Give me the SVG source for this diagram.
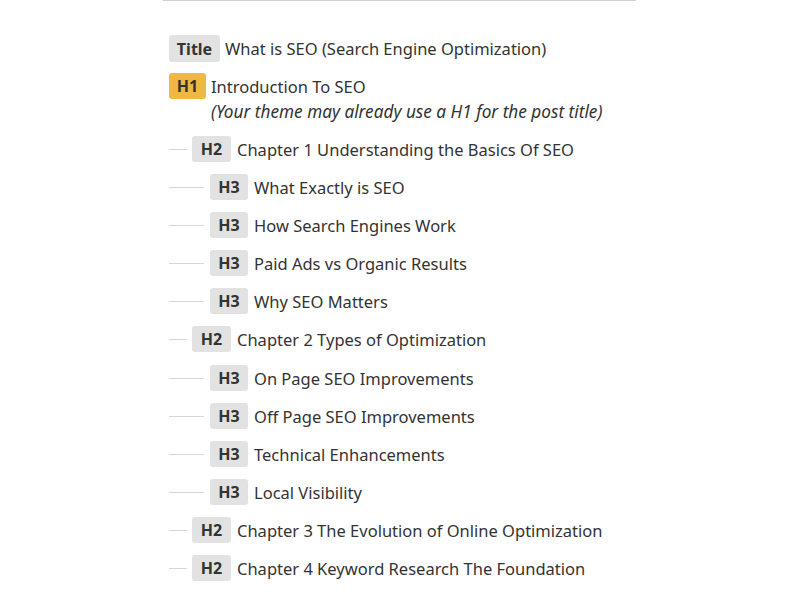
<svg xmlns="http://www.w3.org/2000/svg" width="800" height="600" viewBox="0 0 800 600">
<style>
.bg{fill:#ffffff}
.badge{fill:#e2e2e2}
.h1b{fill:#efb940}
.bt{font-family:"Noto Sans","Open Sans",sans-serif;font-size:16px;font-weight:bold;fill:#333;text-anchor:middle}
.t{font-family:"Noto Sans","Open Sans",sans-serif;font-size:16.5px;fill:#333}
.it{font-style:italic;font-size:17.2px}
.conn line{stroke:#d6d6d6;stroke-width:1}
</style>
<rect class="bg" x="0" y="0" width="800" height="600"/>
<line x1="163" y1="0.5" x2="636" y2="0.5" stroke="#d0d0d0" stroke-width="1"/>
<g class="conn" id="connectors">
<line x1="169" y1="149.5" x2="187" y2="149.5"/>
<line x1="169" y1="187.5" x2="204" y2="187.5"/>
<line x1="169" y1="225.5" x2="204" y2="225.5"/>
<line x1="169" y1="263.5" x2="204" y2="263.5"/>
<line x1="169" y1="301.5" x2="204" y2="301.5"/>
<line x1="169" y1="339.5" x2="187" y2="339.5"/>
<line x1="169" y1="378.5" x2="204" y2="378.5"/>
<line x1="169" y1="416.5" x2="204" y2="416.5"/>
<line x1="169" y1="454.5" x2="204" y2="454.5"/>
<line x1="169" y1="492.5" x2="204" y2="492.5"/>
<line x1="169" y1="530.5" x2="187" y2="530.5"/>
<line x1="169" y1="568.5" x2="187" y2="568.5"/>
</g>
<g id="title"><rect class="badge" x="169" y="35" width="51" height="27" rx="3"/><text class="bt" x="194.5" y="54.5">Title</text><text class="t" x="225" y="55">What is SEO (Search Engine Optimization)</text></g>
<g id="h1"><rect class="h1b" x="169" y="73" width="37" height="26" rx="3"/><text class="bt" x="187.5" y="92">H1</text><text class="t" x="211" y="93">Introduction To SEO</text><text class="t it" x="211" y="118">(Your theme may already use a H1 for the post title)</text></g>
<g id="ch1"><rect class="badge" x="192" y="136" width="39" height="26" rx="3"/><text class="bt" x="211.5" y="155">H2</text><text class="t" x="237" y="156">Chapter 1 Understanding the Basics Of SEO</text></g>
<g id="h3a"><rect class="badge" x="210" y="174" width="38" height="26" rx="3"/><text class="bt" x="229" y="193">H3</text><text class="t" x="254" y="194">What Exactly is SEO</text></g>
<g id="h3b"><rect class="badge" x="210" y="212" width="38" height="26" rx="3"/><text class="bt" x="229" y="231">H3</text><text class="t" x="254" y="232">How Search Engines Work</text></g>
<g id="h3c"><rect class="badge" x="210" y="250" width="38" height="26" rx="3"/><text class="bt" x="229" y="269">H3</text><text class="t" x="254" y="270">Paid Ads vs Organic Results</text></g>
<g id="h3d"><rect class="badge" x="210" y="288" width="38" height="26" rx="3"/><text class="bt" x="229" y="307">H3</text><text class="t" x="254" y="308">Why SEO Matters</text></g>
<g id="ch2"><rect class="badge" x="192" y="326" width="39" height="26" rx="3"/><text class="bt" x="211.5" y="345">H2</text><text class="t" x="237" y="346">Chapter 2 Types of Optimization</text></g>
<g id="h3e"><rect class="badge" x="210" y="365" width="38" height="26" rx="3"/><text class="bt" x="229" y="384">H3</text><text class="t" x="254" y="385">On Page SEO Improvements</text></g>
<g id="h3f"><rect class="badge" x="210" y="403" width="38" height="26" rx="3"/><text class="bt" x="229" y="422">H3</text><text class="t" x="254" y="423">Off Page SEO Improvements</text></g>
<g id="h3g"><rect class="badge" x="210" y="441" width="38" height="26" rx="3"/><text class="bt" x="229" y="460">H3</text><text class="t" x="254" y="461">Technical Enhancements</text></g>
<g id="h3h"><rect class="badge" x="210" y="479" width="38" height="26" rx="3"/><text class="bt" x="229" y="498">H3</text><text class="t" x="254" y="499">Local Visibility</text></g>
<g id="ch3"><rect class="badge" x="192" y="517" width="39" height="26" rx="3"/><text class="bt" x="211.5" y="536">H2</text><text class="t" x="237" y="537">Chapter 3 The Evolution of Online Optimization</text></g>
<g id="ch4"><rect class="badge" x="192" y="555" width="39" height="26" rx="3"/><text class="bt" x="211.5" y="574">H2</text><text class="t" x="237" y="575">Chapter 4 Keyword Research The Foundation</text></g>
</svg>
